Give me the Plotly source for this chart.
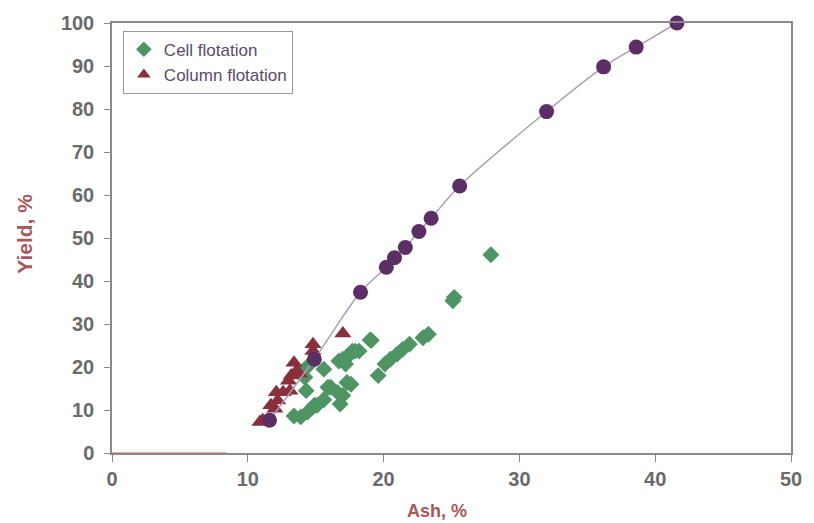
import plotly.graph_objects as go

# Cell flotation (green diamonds)
cell_ash = [27.9, 25.1, 25.2, 23.3, 22.9, 21.9, 21.4, 21.0, 20.5, 20.1, 19.6, 19.1, 18.2,
            19.0, 17.9, 17.7, 17.3, 17.2, 17.0, 16.7, 15.6, 14.4, 14.2, 14.3, 15.9, 16.1,
            17.3, 17.6, 16.6, 17.0, 16.8, 15.6, 15.1, 14.9, 14.4, 13.4, 13.9]
cell_yield = [46.1, 35.4, 36.2, 27.6, 26.8, 25.3, 24.1, 23.0, 21.8, 20.7, 18.0, 26.2, 23.7,
              26.3, 23.7, 23.7, 22.2, 20.7, 21.8, 21.4, 19.5, 20.1, 17.6, 14.5, 15.3, 15.3,
              16.4, 16.0, 14.1, 13.4, 11.4, 12.4, 11.1, 11.1, 9.5, 8.6, 8.4]

# Column flotation (red triangles)
col_ash = [17.0, 14.8, 14.8, 13.4, 13.6, 13.8, 13.2, 13.0, 12.1, 12.6, 13.1, 12.2, 12.0,
           11.7, 11.1, 10.9]
col_yield = [27.8, 25.3, 23.7, 21.0, 19.1, 18.5, 18.0, 16.8, 14.1, 14.1, 14.5, 12.2, 10.3,
             11.1, 7.6, 7.2]

# Fitted curve points (purple circles)
fit_ash = [11.6, 14.9, 18.3, 20.2, 20.8, 21.6, 22.6, 23.5, 25.6, 32.0, 36.2, 38.6, 41.6]
fit_yield = [7.6, 21.8, 37.4, 43.2, 45.4, 47.8, 51.5, 54.6, 62.1, 79.4, 89.8, 94.4, 100.0]

# Red baseline segment
base_ash = [0, 8.4]
base_yield = [0, 0]

fig = go.Figure()
fig.add_trace(go.Scatter(x=base_ash, y=base_yield, mode="lines",
                         line=dict(color="#d98a8a", width=1.5), showlegend=False,
                         hoverinfo="skip"))
fig.add_trace(go.Scatter(x=cell_ash, y=cell_yield, mode="markers", name="Cell flotation",
                         marker=dict(symbol="diamond", size=13, color="#4f9463")))
fig.add_trace(go.Scatter(x=col_ash, y=col_yield, mode="markers", name="Column flotation",
                         marker=dict(symbol="triangle-up", size=15, color="#8a2f3c")))
fig.add_trace(go.Scatter(x=fit_ash, y=fit_yield, mode="lines+markers", showlegend=False,
                         line=dict(color="#aa9db5", width=1.5, shape="spline"),
                         marker=dict(symbol="circle", size=15, color="#5b2f66"),
                         cliponaxis=False))

tickfont = dict(family="Liberation Sans, Arial", size=20, color="#6a6a6a", weight="bold")
axis_common = dict(showgrid=False, zeroline=False, showline=True, linecolor="#8a8a8a",
                   linewidth=1.5, mirror=True, ticks="outside", tickcolor="#8a8a8a",
                   tickfont=tickfont)

fig.update_xaxes(range=[0, 50], dtick=10, ticklen=7, **axis_common)
fig.update_yaxes(range=[0, 100], dtick=10, ticklen=6, ticklabelstandoff=6, **axis_common)

fig.add_annotation(text="Ash, %", xref="paper", yref="paper", x=0.478, y=-0.135,
                   xanchor="center", yanchor="middle", showarrow=False,
                   font=dict(family="Liberation Sans, Arial", size=18, color="#a8585a",
                             weight="bold"))
fig.add_annotation(text="Yield, %", xref="paper", yref="paper", x=-0.128, y=0.51,
                   xanchor="center", yanchor="middle", textangle=-90, showarrow=False,
                   font=dict(family="Liberation Sans, Arial", size=21, color="#a8585a",
                             weight="bold"))

fig.update_layout(
    width=814, height=523,
    margin=dict(l=112, r=15, t=19, b=70),
    paper_bgcolor="white", plot_bgcolor="white",
    legend=dict(x=0.016, y=0.982, xanchor="left", yanchor="top",
                bordercolor="#9a9a9a", borderwidth=1, bgcolor="white",
                font=dict(family="Liberation Sans, Arial", size=17, color="#5b4a70"),
                itemsizing="constant", tracegroupgap=0, itemwidth=30),
)

fig.write_html("out.html")
